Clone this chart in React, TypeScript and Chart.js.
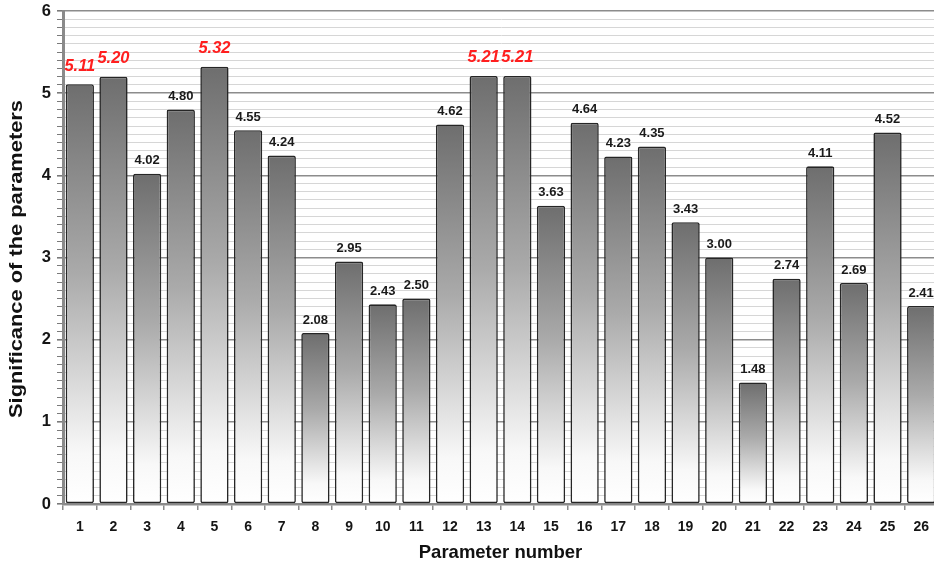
import React, { useEffect, useRef } from "react";
import { Chart, registerables } from "chart.js";

Chart.register(...registerables);

// Parameter numbers along the x axis
const parameters: string[] = [
  "1", "2", "3", "4", "5", "6", "7", "8", "9", "10", "11", "12", "13",
  "14", "15", "16", "17", "18", "19", "20", "21", "22", "23", "24", "25", "26",
];

// Significance of each parameter
const significance: number[] = [
  5.11, 5.2, 4.02, 4.8, 5.32, 4.55, 4.24, 2.08, 2.95, 2.43, 2.5, 4.62, 5.21,
  5.21, 3.63, 4.64, 4.23, 4.35, 3.43, 3.0, 1.48, 2.74, 4.11, 2.69, 4.52, 2.41,
];

// Parameters whose values are emphasised in red
const highlighted: number[] = [1, 2, 5, 13, 14];

const yMin = 0;
const yMax = 6;
const yMinorStep = 0.1;

const yTitle = "Significance of the parameters";
const xTitle = "Parameter number";

const FONT = 'Arial, "Liberation Sans", sans-serif';

const isMajor = (v: number) => Math.abs(v - Math.round(v)) < 1e-6;

// Writes each bar's value above it
const valueLabels = {
  id: "valueLabels",
  afterDatasetsDraw(chart: any) {
    const ctx = chart.ctx;
    const meta = chart.getDatasetMeta(0);
    ctx.save();
    ctx.textAlign = "center";
    ctx.textBaseline = "middle";
    meta.data.forEach((bar: any, i: number) => {
      const v = significance[i];
      const label = v.toFixed(2);
      if (highlighted.includes(Number(parameters[i]))) {
        ctx.font = `italic bold 16.5px ${FONT}`;
        ctx.fillStyle = "#ff1f1f";
        ctx.fillText(label, bar.x, bar.y - 18);
      } else {
        ctx.font = `bold 13px ${FONT}`;
        ctx.fillStyle = "#1a1a1a";
        ctx.fillText(label, bar.x, bar.y - 13);
      }
    });
    ctx.restore();
  },
};

// Rotated, slightly widened y-axis title
const yAxisTitle = {
  id: "yAxisTitle",
  afterDraw(chart: any) {
    const ctx = chart.ctx;
    ctx.save();
    ctx.font = `bold 19px ${FONT}`;
    ctx.fillStyle = "#111";
    ctx.textAlign = "center";
    ctx.textBaseline = "middle";
    const w = ctx.measureText(yTitle).width;
    const sx = 318 / w;
    ctx.translate(17, 259);
    ctx.rotate(-Math.PI / 2);
    ctx.scale(sx, 1);
    ctx.fillText(yTitle, 0, 0);
    ctx.restore();
  },
};

export default function App() {
  const canvasRef = useRef<HTMLCanvasElement | null>(null);

  useEffect(() => {
    const canvas = canvasRef.current;
    if (!canvas) return;

    const chart = new Chart(canvas, {
      type: "bar",
      data: {
        labels: parameters,
        datasets: [
          {
            data: significance,
            backgroundColor: (c: any) => {
              const chartRef = c.chart;
              const y = chartRef.scales?.y;
              if (!y || !chartRef.chartArea || c.raw == null) return "#999";
              const top = y.getPixelForValue(c.raw);
              const bottom = y.getPixelForValue(0);
              if (!isFinite(top) || !isFinite(bottom) || top === bottom) return "#999";
              const g = chartRef.ctx.createLinearGradient(0, top, 0, bottom);
              g.addColorStop(0, "#6e6e6e");
              g.addColorStop(0.45, "#aaaaaa");
              g.addColorStop(0.88, "#f8f8f8");
              g.addColorStop(1, "#ffffff");
              return g;
            },
            borderColor: "#262626",
            borderWidth: 1.6,
            borderRadius: 2,
            borderSkipped: false,
            categoryPercentage: 1,
            barPercentage: 0.84,
          },
        ],
      },
      options: {
        responsive: false,
        animation: false,
        devicePixelRatio: 1,
        layout: { padding: { top: 11, left: 0, right: 0, bottom: 0 } },
        plugins: {
          legend: { display: false },
          tooltip: { enabled: false },
        },
        scales: {
          x: {
            offset: true,
            grid: {
              offset: true,
              drawOnChartArea: false,
              drawTicks: true,
              tickLength: 6,
              color: "#8a8a8a",
              lineWidth: 1.5,
            },
            border: { color: "#8a8a8a", width: 2.5 },
            ticks: {
              font: { family: FONT, size: 14, weight: "bold" },
              color: "#151515",
              padding: 9,
              autoSkip: false,
              maxRotation: 0,
            },
            title: {
              display: true,
              text: xTitle,
              font: { family: FONT, size: 18.5, weight: "bold" },
              color: "#111",
              padding: { top: 0, bottom: 4 },
            },
            afterFit: (scale: any) => {
              scale.height = 64;
            },
          },
          y: {
            min: yMin,
            max: yMax,
            grid: {
              color: (c: any) =>
                c.tick && isMajor(c.tick.value) ? "#8c8c8c" : "#d6d6d6",
              lineWidth: (c: any) =>
                c.tick && isMajor(c.tick.value) ? 1.6 : 1,
              tickColor: "#7a7a7a",
              tickLength: 6,
              drawTicks: true,
            },
            border: { color: "#8a8a8a", width: 3 },
            ticks: {
              stepSize: yMinorStep,
              autoSkip: false,
              padding: 6,
              font: { family: FONT, size: 16.5, weight: "bold" },
              color: "#151515",
              callback: (v: any) =>
                isMajor(Number(v)) ? String(Math.round(Number(v))) : "",
            },
            title: { display: false },
            afterFit: (scale: any) => {
              scale.width = 63;
              scale.paddingTop = 0;
              scale.paddingBottom = 0;
            },
          },
        },
      },
      plugins: [valueLabels, yAxisTitle],
    });

    return () => chart.destroy();
  }, []);

  return (
    <div
      style={{
        position: "fixed",
        left: 0,
        top: 0,
        width: 934,
        height: 568,
        overflow: "hidden",
        background: "#fff",
      }}
    >
      <canvas ref={canvasRef} width={938} height={568} style={{ display: "block" }} />
    </div>
  );
}
